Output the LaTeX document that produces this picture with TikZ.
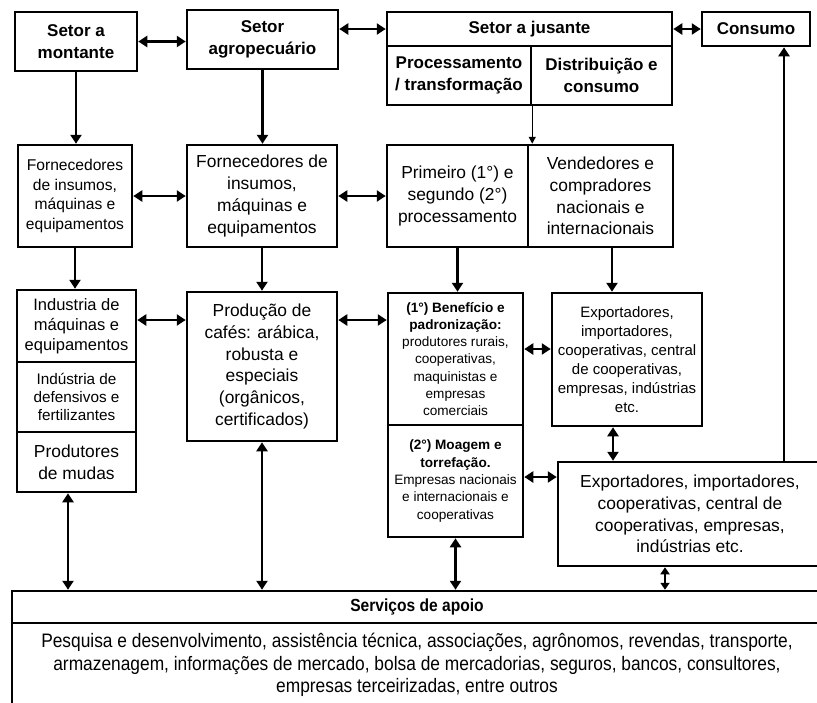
\documentclass[tikz,border=0pt]{standalone}
\usepackage{fontspec}
\setmainfont{Liberation Sans}
\newfontfamily\condfont[FakeStretch=0.89]{Liberation Sans}
\usetikzlibrary{arrows.meta,calc}
\newcommand{\fs}[2]{\fontsize{#1}{#2}\selectfont}
\begin{document}
\begin{tikzpicture}[x=1pt,y=-1pt,
  box/.style={draw, line width=2.5pt, align=center, inner sep=0pt},
  arr/.style={line width=2.5pt, -{Triangle[length=9pt,width=11pt]}},
  darr/.style={line width=2.5pt, {Triangle[length=9pt,width=11pt]}-{Triangle[length=9pt,width=11pt]}},
  sdarr/.style={line width=2.5pt, {Triangle[length=7pt,width=9pt]}-{Triangle[length=7pt,width=9pt]}},
  thinarr/.style={line width=1.4pt, -{Triangle[length=7pt,width=7pt]}},
  hd/.style={font=\bfseries\fs{17}{21.7}},
  big/.style={font=\fs{17.4}{21.7}},
]
\clip (0,0) rectangle (817,702);
\fill[white] (0,0) rectangle (817,702);

% top row
\node[box, hd, minimum width=122pt, minimum height=59pt] (mont) at (76,41.5) {Setor a\\montante};
\node[box, hd, minimum width=151pt, minimum height=59pt] (agro) at (262.5,39.5) {Setor\\agropecuário};
\node[box, hd, minimum width=285pt, minimum height=34pt] (jus) at (529.5,29) {Setor a jusante};
\node[box, hd, minimum width=144pt, minimum height=59pt] (proc) at (459,75.5) {Processamento\\/ transformação};
\node[box, hd, minimum width=141pt, minimum height=59pt] (dist) at (601.5,75.5) {Distribuição e\\consumo};
\node[box, hd, minimum width=108pt, minimum height=34pt] (cons) at (756,29) {Consumo};

% second row
\node[box, font=\fs{15.6}{19.5}, minimum width=114pt, minimum height=102pt] (forn1) at (75,196) {Fornecedores\\de insumos,\\máquinas e\\equipamentos};
\node[box, big, minimum width=150pt, minimum height=102pt] (forn2) at (262,196) {Fornecedores de\\insumos,\\máquinas e\\equipamentos};
\node[box, big, minimum width=141pt, minimum height=102pt] (prim) at (457.5,196) {Primeiro (1°) e\\segundo (2°)\\processamento};
\node[box, big, minimum width=145pt, minimum height=102pt] (vend) at (600.5,196) {Vendedores e\\compradores\\nacionais e\\internacionais};

% third row
\node[box, font=\fs{16.5}{20}, minimum width=119pt, minimum height=72pt] (ind1) at (76.5,326) {Industria de\\máquinas e\\equipamentos};
\node[box, font=\fs{15.3}{18.3}, minimum width=119pt, minimum height=70pt] (ind2) at (76.5,397) {Indústria de\\defensivos e\\fertilizantes};
\node[box, big, minimum width=119pt, minimum height=60pt] (prod) at (76.5,462) {Produtores\\de mudas};
\node[box, big, minimum width=150pt, minimum height=149pt] (cafe) at (262,366.5) {Produção de\\cafés: arábica,\\robusta e\\especiais\\(orgânicos,\\certificados)};
\node[box, font=\fs{13.6}{17.3}, minimum width=135pt, minimum height=132pt] (ben) at (455.5,359) {\textbf{(1°) Benefício e}\\\textbf{padronização:}\\produtores rurais,\\cooperativas,\\maquinistas e\\empresas\\comerciais};
\node[box, font=\fs{13.6}{17.3}, minimum width=135pt, minimum height=112pt] (moag) at (455.5,481) {\textbf{(2°) Moagem e}\\\textbf{torrefação.}\\Empresas nacionais\\e internacionais e\\cooperativas};
\node[box, font=\fs{15}{19}, minimum width=150pt, minimum height=133pt] (exp1) at (627,359.5) {Exportadores,\\importadores,\\cooperativas, central\\de cooperativas,\\empresas, indústrias\\etc.};
\node[box, big, minimum width=264pt, minimum height=104pt] (exp2) at (690,514) {Exportadores, importadores,\\cooperativas, central de\\cooperativas, empresas,\\indústrias etc.};

% support services
\node[box, font=\condfont\bfseries\fs{17.5}{20}, minimum width=810pt, minimum height=32pt] (servh) at (417,607) {Serviços de apoio};
\node[box, font=\condfont\fs{19.5}{22.5}, minimum width=810pt, minimum height=84pt] (servb) at (417,665) {Pesquisa e desenvolvimento, assistência técnica, associações, agrônomos, revendas, transporte,\\armazenagem, informações de mercado, bolsa de mercadorias, seguros, bancos, consultores,\\empresas terceirizadas, entre outros};

% helper coordinates
\coordinate (y320) at (0,320);
\coordinate (y349) at (0,349);
\coordinate (y477) at (0,477);
\coordinate (x612) at (612,0);
\coordinate (x613) at (613,0);
\coordinate (x784) at (784,0);
\coordinate (x68) at (68,0);
\coordinate (x665) at (665,0);

% connectors
\draw[darr] (mont.east) -- (mont.east -| agro.west);
\draw[darr] (agro.east |- jus.center) -- (jus.west);
\draw[darr] (jus.east) -- (cons.west);
\draw[arr] (mont.south) -- (forn1.north -| mont.south);
\draw[arr] (agro.south) -- (forn2.north -| agro.south);
\draw[thinarr] (proc.south east) -- (prim.north -| proc.south east);
\draw[darr] (forn1.east) -- (forn2.west);
\draw[darr] (forn2.east) -- (prim.west);
\draw[arr] (forn1.south) -- (ind1.north -| forn1.south);
\draw[arr] (forn2.south) -- (cafe.north -| forn2.south);
\draw[arr] (prim.south) -- (ben.north -| prim.south);
\draw[arr] (vend.south -| x612) -- (exp1.north -| x612);
\draw[darr] (ind1.east |- y320) -- (cafe.west |- y320);
\draw[darr] (cafe.east |- y320) -- (ben.west |- y320);
\draw[darr] (ben.east |- y349) -- (exp1.west |- y349);
\draw[darr] (moag.east |- y477) -- (exp2.west |- y477);
\draw[darr] (exp1.south -| x613) -- (exp2.north -| x613);
\draw[arr] (exp2.north -| x784) -- (cons.south -| x784);
\draw[darr] (prod.south -| x68) -- (servh.north -| x68);
\draw[darr] (cafe.south) -- (servh.north -| cafe.south);
\draw[darr] (moag.south) -- (servh.north -| moag.south);
\draw[sdarr] (exp2.south -| x665) -- (servh.north -| x665);
\end{tikzpicture}
\end{document}
